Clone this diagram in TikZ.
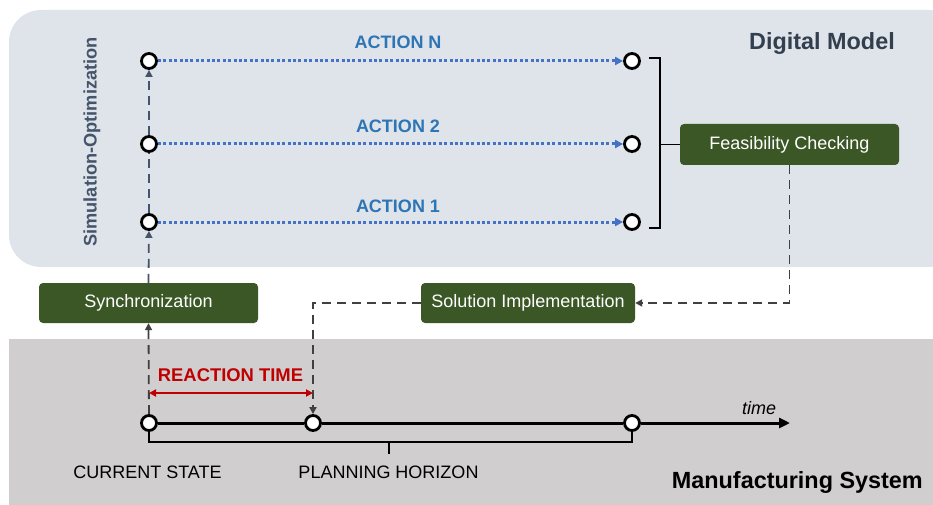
\documentclass[tikz,border=0pt]{standalone}
\usepackage{fontspec}
\setmainfont{Liberation Sans}
\usetikzlibrary{arrows.meta}
\definecolor{modelbg}{HTML}{DFE3EA}
\definecolor{plantbg}{HTML}{D0CECF}
\definecolor{boxgreen}{HTML}{3A5725}
\definecolor{actblue}{HTML}{4472C4}
\definecolor{acttext}{HTML}{2E75B6}
\definecolor{slate}{HTML}{44546A}
\definecolor{titlegray}{HTML}{323F4F}
\definecolor{flowgray}{HTML}{404040}
\definecolor{reactred}{HTML}{C00000}
\tikzset{
  every node/.style={font=\fontsize{18}{20}\selectfont, inner sep=0pt},
  dot/.style={circle, draw=black, line width=2.8pt, fill=white, minimum size=15pt, inner sep=0pt},
  greenbox/.style={rectangle, rounded corners=4pt, fill=boxgreen, text=white, inner sep=0pt},
  actarrow/.style={actblue, line width=3pt, dash pattern=on 3pt off 2.4pt, -{Triangle[length=8pt,width=8pt]}},
  acttag/.style={text=acttext, font=\fontsize{18}{20}\selectfont\bfseries, anchor=base},
  flowarrow/.style={flowgray, line width=1.8pt, dash pattern=on 9pt off 6pt, -{Triangle[length=7pt,width=7pt]}},
  bracketline/.style={black, line width=1.6pt},
}
\begin{document}
\begin{tikzpicture}[x=1pt, y=-1pt]
\useasboundingbox (0,0) rectangle (933,505);
% panels
\fill[modelbg, rounded corners=32pt] (9,10) rectangle (960,267);
\fill[plantbg] (9,339) rectangle (933,505);

% titles
\node[font=\fontsize{23.4}{26}\selectfont\bfseries, text=titlegray, anchor=base east] (dmtitle) at (895,50) {Digital Model};
\node[font=\fontsize{23.4}{26}\selectfont\bfseries, text=black, anchor=base east] (mstitle) at (923,488) {Manufacturing System};
\node[font=\fontsize{18.2}{20}\selectfont\bfseries, text=slate, rotate=90] (simopt) at (92,142) {Simulation-Optimization};

% action states
\node[dot] (l1) at (149,222) {};
\node[dot] (l2) at (149,144) {};
\node[dot] (lN) at (149,61) {};
\node[dot] (r1) at (632,222) {};
\node[dot] (r2) at (632,144) {};
\node[dot] (rN) at (632,61) {};

\draw[actarrow] (l1) -- (r1);
\draw[actarrow] (l2) -- (r2);
\draw[actarrow] (lN) -- (rN);
\node[acttag] (a1) at (398,212) {ACTION 1};
\node[acttag] (a2) at (398,133) {ACTION 2};
\node[acttag] (aN) at (398,49) {ACTION N};

% boxes
\node[greenbox, minimum width=219pt, minimum height=41pt] (feas) at (789.5,144.5) {Feasibility Checking};
\node[greenbox, minimum width=219pt, minimum height=40pt] (sync) at (148.5,303) {Synchronization};
\node[greenbox, minimum width=214pt, minimum height=40pt] (sol) at (528,303) {Solution Implementation};

% bracket collecting the actions
\coordinate (bt) at (649,58);
\coordinate (bb) at (649,228);
\coordinate (bmid) at (660,144.5);
\draw[bracketline] (bt) -- (660,58) -- (660,228) -- (bb);
\draw[bracketline] (bmid) -- (feas.west);

% timeline
\node[dot] (t1) at (149,423) {};
\node[dot] (t2) at (313,423) {};
\node[dot] (t3) at (632,423) {};
\coordinate (tend) at (790,423);
\draw[line width=3pt] (t1) -- (t2);
\draw[line width=3pt] (t2) -- (t3);
\draw[line width=3pt, -{Triangle[length=11pt,width=10pt]}] (t3) -- (tend);
\node[font=\fontsize{18}{20}\selectfont\itshape, anchor=base] (timelbl) at (759,414) {time};

% planning horizon bracket
\coordinate (hl) at (149,431);
\coordinate (hr) at (632,431);
\coordinate (hm) at (389,442);
\coordinate (hmb) at (389,454);
\draw[bracketline] (hl) -- (149,442) -- (632,442) -- (hr);
\draw[bracketline] (hm) -- (hmb);
\node[anchor=base] (cur) at (147.5,478) {CURRENT STATE};
\node[anchor=base] (plan) at (388.5,478) {PLANNING HORIZON};

% control loop
\draw[flowarrow, slate] (sync.north) -- (l1);
\draw[slate, line width=1.8pt, dash pattern=on 9pt off 6pt] (l1) -- (l2);
\draw[flowarrow, slate] (l2) -- (lN);
\draw[flowarrow] (feas.south) |- (sol.east);
\draw[flowarrow] (sol.west) -| (t2);
\draw[flowarrow] (t1) -- (sync.south);

% reaction time
\coordinate (rtl) at (149,393);
\coordinate (rtr) at (313,393);
\draw[reactred, line width=1.8pt, {Triangle[length=7pt,width=7pt]}-{Triangle[length=7pt,width=7pt]}] (rtl) -- (rtr);
\node[font=\fontsize{18.4}{20}\selectfont\bfseries, text=reactred, anchor=base] (rt) at (230.5,381) {REACTION TIME};
\end{tikzpicture}
\end{document}
